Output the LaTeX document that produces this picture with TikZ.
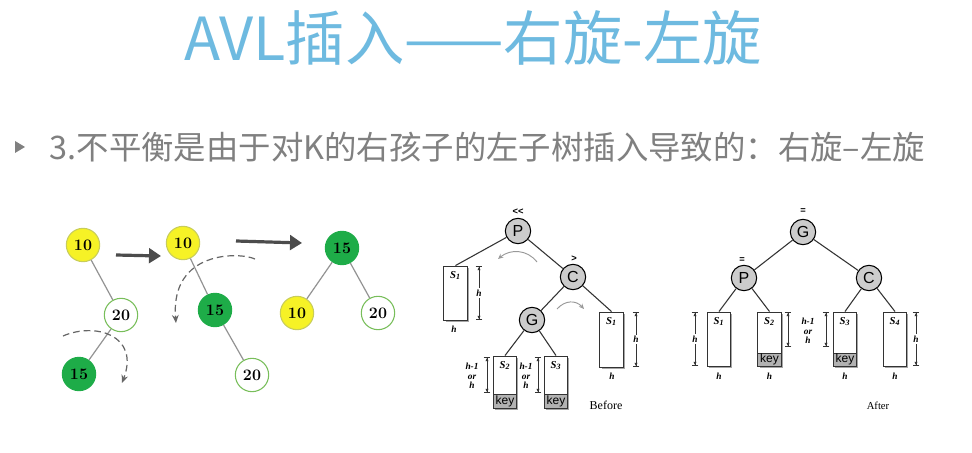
\documentclass[tikz,border=0pt]{standalone}
\usepackage{fontspec}
\newfontfamily\cjkfont{Noto Sans CJK SC}
\newfontfamily\labelfont{Liberation Sans}
\newfontfamily\serifont{Liberation Serif}
\usetikzlibrary{arrows.meta,shadows}
\definecolor{titleblue}{RGB}{110,186,224}
\definecolor{subgray}{RGB}{128,128,128}
\definecolor{avlyellow}{RGB}{246,242,38}
\definecolor{avlyellowline}{RGB}{200,205,90}
\definecolor{avlgreen}{RGB}{30,172,72}
\definecolor{avlgreenline}{RGB}{120,190,90}
\tikzset{
 numnode/.style={circle,draw=avlgreenline,line width=.8pt,minimum size=25pt,inner sep=0,font=\bfseries\large},
 yellownode/.style={numnode,fill=avlyellow,draw=avlyellowline},
 greennode/.style={numnode,fill=avlgreen,draw=avlgreen},
 whitenode/.style={numnode,fill=white},
 treeline/.style={draw=gray!85,line width=.9pt},
 bigarrow/.style={draw=black!70,line width=2.4pt,-{Triangle[length=9pt,width=11pt]}},
 rotarrow/.style={draw=black!60,dashed,dash pattern=on 5pt off 3pt,line width=.9pt,-{Stealth[length=6pt,width=5pt]}},
 letternode/.style={circle,draw,fill=gray!40,line width=.8pt,minimum size=19pt,inner sep=0,font=\labelfont\large},
 branch/.style={draw=black!80,line width=.8pt},
 subtree/.style={draw=black!80,fill=white,line width=.7pt,minimum width=17.5pt,minimum height=40.5pt,inner sep=0,
   drop shadow={shadow xshift=1.3pt,shadow yshift=-1.3pt,fill=gray!70,opacity=1}},
 keypart/.style={fill=gray!60,draw=black!80,line width=.7pt,minimum width=17.5pt,minimum height=10.5pt,inner sep=0,font=\labelfont\small},
 dimline/.style={draw=black!80,line width=.6pt,{Bar[width=5pt]Latex[length=2.5pt,width=2.5pt]}-{Latex[length=2.5pt,width=2.5pt]Bar[width=5pt]}},
 dimlabel/.style={fill=white,inner sep=1pt,font=\serifont\bfseries\itshape\scriptsize},
 smalllabel/.style={font=\serifont\bfseries\itshape\scriptsize,inner sep=0},
 treelabel/.style={font=\serifont\bfseries\itshape\footnotesize,inner sep=0},
 balance/.style={font=\labelfont\bfseries\scriptsize,inner sep=0},
 turnarrow/.style={draw=gray!80,line width=.7pt,-{Stealth[length=4pt,width=3.5pt]}}
}

\begin{document}
\begin{tikzpicture}[x=0.75pt,y=-0.75pt]
\path[use as bounding box,fill=white] (0,0) rectangle (972,453);
% heading
\node[font=\cjkfont\fontsize{44.5}{48}\selectfont,text=titleblue] (title) at (473,38) {AVL插入——右旋-左旋};
\fill[subgray] (15,141) -- (25,147) -- (15,153) -- cycle;
\node[anchor=west,font=\cjkfont\fontsize{24.3}{28}\selectfont,text=subgray] (case) at (45,147) {3.不平衡是由于对K的右孩子的左子树插入导致的：右旋–左旋};

% small example
\node[yellownode] (a10) at (83,245) {10};
\node[whitenode] (a20) at (121,315) {20};
\node[greennode] (a15) at (79,374) {15};
\draw[treeline] (a10) -- (a20);
\draw[treeline] (a20) -- (a15);
\coordinate (r1s) at (63,336);
\coordinate (r1e) at (122,383);
\draw[rotarrow] (r1s) .. controls (95,322) and (140,335) .. (r1e);
\coordinate (m1s) at (116,255);
\coordinate (m1e) at (161,256);
\draw[bigarrow] (m1s) -- (m1e);

\node[yellownode] (b10) at (183,243) {10};
\node[greennode] (b15) at (215,310) {15};
\node[whitenode] (b20) at (252,375) {20};
\draw[treeline] (b10) -- (b15);
\draw[treeline] (b15) -- (b20);
\coordinate (r2s) at (255,259);
\coordinate (r2e) at (176,323);
\draw[rotarrow] (r2s) .. controls (240,252) and (170,250) .. (r2e);
\coordinate (m2s) at (236,241);
\coordinate (m2e) at (302,243);
\draw[bigarrow] (m2s) -- (m2e);

\node[greennode] (c15) at (342,248) {15};
\node[yellownode] (c10) at (297,313) {10};
\node[whitenode] (c20) at (378,313) {20};
\draw[treeline] (c15) -- (c10);
\draw[treeline] (c15) -- (c20);

% before
\node[letternode] (p1) at (518,231) {P};
\node[letternode] (c1) at (573,277) {C};
\node[letternode] (g1) at (532,320) {G};
\node[subtree] (s1a) at (455.5,293) {};
\node[subtree,minimum height=41.25pt] (s1b) at (611.5,339.5) {};
\node[subtree,minimum height=39pt] (s2a) at (505,382) {};
\node[keypart,anchor=south] (k2a) at (s2a.south) {key};
\node[subtree,minimum height=39pt] (s3a) at (556,382) {};
\node[keypart,anchor=south] (k3a) at (s3a.south) {key};
\draw[branch] (p1) -- (s1a.north);
\draw[branch] (p1) -- (c1);
\draw[branch] (c1) -- (g1);
\draw[branch] (c1) -- (s1b.north);
\draw[branch] (g1) -- (s2a.north);
\draw[branch] (g1) -- (s3a.north);
\node[treelabel,below=4pt] at (s1a.north) {S\textsubscript{1}};
\node[treelabel,below=4pt] at (s1b.north) {S\textsubscript{1}};
\node[treelabel,below=4pt] at (s2a.north) {S\textsubscript{2}};
\node[treelabel,below=4pt] at (s3a.north) {S\textsubscript{3}};
\node[balance] (bal1) at (518,212) {<<};
\node[balance] (bal2) at (574,259) {>};
\coordinate (d1t) at (479,266);
\coordinate (d1b) at (479,320);
\draw[dimline] (d1t) -- node[dimlabel] {h} (d1b);
\coordinate (d2t) at (636,312);
\coordinate (d2b) at (636,367);
\draw[dimline] (d2t) -- node[dimlabel] {h} (d2b);
\coordinate (d3t) at (487,357);
\coordinate (d3b) at (487,393);
\draw[dimline] (d3t) -- (d3b);
\coordinate (d4t) at (538,357);
\coordinate (d4b) at (538,393);
\draw[dimline] (d4t) -- (d4b);
\node[smalllabel,align=center] (o1) at (472,376) {h-1\\[-1pt]or\\[-1pt]h};
\node[smalllabel,align=center] (o2) at (526,376) {h-1\\[-1pt]or\\[-1pt]h};
\node[smalllabel] at (454,329) {h};
\node[smalllabel] at (612,376) {h};
\coordinate (t1s) at (537,262);
\coordinate (t1e) at (498,259);
\draw[turnarrow] (t1s) .. controls (527,249) and (510,249) .. (t1e);
\coordinate (t2s) at (557,309);
\coordinate (t2e) at (584,309);
\draw[turnarrow] (t2s) .. controls (565,300) and (576,300) .. (t2e);
\node[font=\serifont\small] (before) at (606,405) {Before};

% after
\node[letternode] (g2) at (803,232) {G};
\node[letternode] (p2) at (744,278) {P};
\node[letternode] (c2) at (869,278) {C};
\node[subtree] (s1c) at (719,339) {};
\node[subtree] (s2c) at (769.5,339) {};
\node[keypart,anchor=south,minimum height=9.75pt] (k2c) at (s2c.south) {key};
\node[subtree] (s3c) at (845,339) {};
\node[keypart,anchor=south,minimum height=9.75pt] (k3c) at (s3c.south) {key};
\node[subtree] (s4c) at (895,339) {};
\draw[branch] (g2) -- (p2);
\draw[branch] (g2) -- (c2);
\draw[branch] (p2) -- (s1c.north);
\draw[branch] (p2) -- (s2c.north);
\draw[branch] (c2) -- (s3c.north);
\draw[branch] (c2) -- (s4c.north);
\node[treelabel,below=4pt] at (s1c.north) {S\textsubscript{1}};
\node[treelabel,below=4pt] at (s2c.north) {S\textsubscript{2}};
\node[treelabel,below=4pt] at (s3c.north) {S\textsubscript{3}};
\node[treelabel,below=4pt] at (s4c.north) {S\textsubscript{4}};
\node[balance] (bal3) at (803,211) {=};
\node[balance] (bal4) at (742,260) {=};
\coordinate (d5t) at (695,312);
\coordinate (d5b) at (695,366);
\draw[dimline] (d5t) -- node[dimlabel] {h} (d5b);
\coordinate (d6t) at (788,312);
\coordinate (d6b) at (788,347);
\draw[dimline] (d6t) -- (d6b);
\coordinate (d7t) at (826,312);
\coordinate (d7b) at (826,347);
\draw[dimline] (d7t) -- (d7b);
\coordinate (d8t) at (916,312);
\coordinate (d8b) at (916,366);
\draw[dimline] (d8t) -- node[dimlabel] {h} (d8b);
\node[smalllabel,align=center] (o3) at (808,331) {h-1\\[-1pt]or\\[-1pt]h};
\foreach \px in {719,769.5,845,895} {
  \node[smalllabel] at (\px,376) {h};
}
\node[font=\serifont\footnotesize] (after) at (878,406) {After};
\end{tikzpicture}
\end{document}
